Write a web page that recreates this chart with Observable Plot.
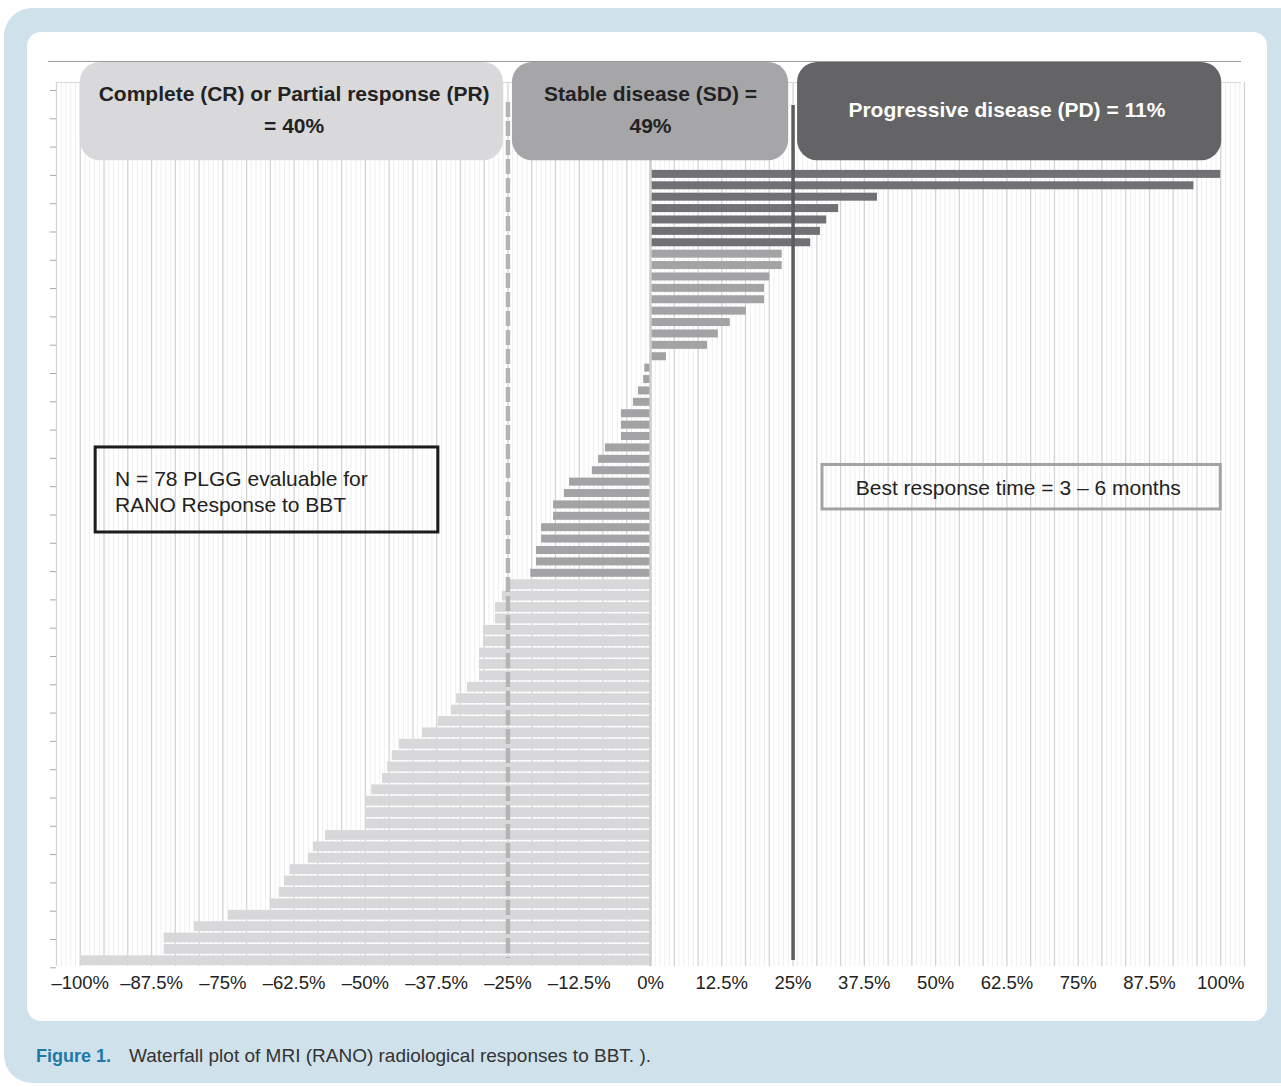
<!DOCTYPE html>
<html>
<head>
<meta charset="utf-8">
<script src="https://cdn.jsdelivr.net/npm/d3@7"></script>
<script src="https://cdn.jsdelivr.net/npm/@observablehq/plot@0.6"></script>
<style>
  html, body { margin: 0; padding: 0; background: #fff; }
  #page { position: relative; width: 1281px; height: 1087px; overflow: hidden;
          font-family: "Liberation Sans", Arial, Helvetica, sans-serif; }
  #outer { position: absolute; left: 4px; top: 8px; width: 1320px; height: 1075px;
           background: #cfe1ea; border-radius: 28px; }
  #panel { position: absolute; left: 27px; top: 32px; width: 1240px; height: 989px;
           background: #fff; border-radius: 14px; }
  #chart { position: absolute; left: 0; top: 0; }
  #caption { position: absolute; left: 36px; top: 1045px; font-size: 19px; color: #333; white-space: nowrap; }
  #caption b { color: #1d7aa6; margin-right: 18px; font-size: 18px; }
</style>
</head>
<body>
<div id="page">
  <div id="outer"></div>
  <div id="panel"></div>
  <div id="chart"></div>
  <div id="caption"><b>Figure 1.</b>Waterfall plot of MRI (RANO) radiological responses to BBT. ).</div>
</div>
<script>
// Patients evaluated; the top rows of the waterfall sit behind the category banners.
const totalPatients = 78;

// Best change in tumour size (%) per patient, sorted from largest growth to largest shrinkage.
const change = [
  100, 95.3, 39.8, 33, 30.9, 29.8, 28.1, 23.1, 23.1, 20.9, 20, 20, 16.8, 14, 11.9, 10, 2.8,
  -1, -1.2, -2.1, -3, -5.1, -5.1, -5.1, -7.9, -9.1, -10.2, -14.2, -15.1, -17, -17, -19.1, -19.1,
  -20, -20, -21,
  -25.1, -26, -27.2, -27.2, -29.3, -29.3, -30, -30, -30, -32.1, -34, -34.9, -37.2, -40, -44,
  -45.3, -46.1, -47, -48.9, -50, -50, -50, -57, -59.1, -60, -63.2, -64.2, -65.1, -66.7, -74,
  -80, -85.3, -85.3, -100
];

// RANO response categories, their share of patients and their bounds on the % axis.
const responseNames = ["Complete (CR) or Partial response (PR)", "Stable disease (SD)", "Progressive disease (PD)"];
const responseCodes = ["PR", "SD", "PD"];
const responseShares = [40, 49, 11];
const responseBounds = [-100, -25, 25, 100];

// Axis tick labels (%).
const xTickValues = [-100, -87.5, -75, -62.5, -50, -37.5, -25, -12.5, 0, 12.5, 25, 37.5, 50, 62.5, 75, 87.5, 100];

const colors = {PR: "#d8d8da", SD: "#a3a3a6", PD: "#717175"};
const boxFill = {PR: "#d9d9db", SD: "#a6a6a9", PD: "#646466"};
const boxText = {PR: "#222", SD: "#222", PD: "#fff"};

const hiddenRows = totalPatients - change.length;
const classify = v => v > responseBounds[2] ? "PD" : v > responseBounds[1] ? "SD" : "PR";
const bars = change.map((value, i) => ({value, row: hiddenRows + i, group: classify(value)}));

const labelLayouts = [
  (n, s) => `${n}\n= ${s}%`,
  (n, s) => `${n} =\n${s}%`,
  (n, s) => `${n} = ${s}%`
];
const groups = responseNames.map((name, i) => ({
  name, code: responseCodes[i], share: responseShares[i],
  x1: responseBounds[i], x2: responseBounds[i + 1],
  label: labelLayouts[i](name, responseShares[i])
}));

// Vertical grid every 1/24 of 100 %, with faint subdivisions between.
const gridStep = 100 / 24;
const majorGrid = d3.range(-25, 26).map(k => k * gridStep);
const minorGrid = d3.range(-125, 126).filter(k => k % 5 !== 0).map(k => k * gridStep / 5);
// Small dash marks along the left edge.
const yDashes = d3.range(32).map(k => 1.14 + k * 2.483);

const fmt = d => (d < 0 ? "\u2013" : "") + Math.abs(d) + "%";

const rowBars = code => Plot.rectX(bars.filter(d => d.group === code), {
  x1: () => 0, x2: "value", y1: "row", y2: d => d.row + 1,
  fill: colors[code],
  insetTop: code === "PR" ? 0.8 : 1.7, insetBottom: code === "PR" ? 0.8 : 1.7
});

const banner = (g, insetLeft, insetRight) => Plot.rect([g], {
  x1: "x1", x2: "x2", y1: () => 0, y2: () => hiddenRows,
  fill: boxFill[g.code], rx: 20,
  insetTop: -15, insetBottom: 8, insetLeft, insetRight
});

const chart = Plot.plot({
  width: 1281,
  height: 1010,
  marginLeft: 56,
  marginRight: 37,
  marginTop: 77,
  marginBottom: 44,
  style: {background: "transparent", fontFamily: "Liberation Sans, Arial, Helvetica, sans-serif", overflow: "visible"},
  x: {domain: [-100 - gridStep, 100 + gridStep], label: null},
  y: {domain: [0, totalPatients], reverse: true, label: null},
  marks: [
    Plot.ruleX(minorGrid, {stroke: "#efefef", strokeWidth: 1, insetTop: 5}),
    Plot.ruleX(majorGrid, {stroke: "#d3d3d3", strokeWidth: 1.3, insetTop: 5}),
    Plot.ruleY([0], {dy: 5, stroke: "#d8d8d8", strokeWidth: 1, insetRight: 3}),
    Plot.ruleY([0], {dy: -16, stroke: "#9a9a9a", strokeWidth: 1.2, insetLeft: -8, insetRight: 3}),
    rowBars("PR"),
    rowBars("SD"),
    rowBars("PD"),
    Plot.ruleX([0], {stroke: "#cdcdcd", strokeWidth: 2.5}),
    Plot.ruleX([responseBounds[1]], {y1: () => 0, y2: () => totalPatients, stroke: "#b4b4b4",
      strokeWidth: 4.5, strokeDasharray: "15,4", insetTop: 25, insetBottom: 8}),
    Plot.ruleX([responseBounds[2]], {y1: () => 0, y2: () => totalPatients, stroke: "#5c5c5e",
      strokeWidth: 3.5, insetTop: 28, insetBottom: 6}),
    banner(groups[0], 0, 4.5),
    banner(groups[1], 4.5, 4.5),
    banner(groups[2], 4.5, -1),
    Plot.text(groups.slice(0, 2), {
      x: d => (d.x1 + d.x2) / 2, y: () => hiddenRows / 2, dy: -16,
      text: "label", fill: d => boxText[d.code],
      fontSize: 21, fontWeight: "bold", lineHeight: 1.52
    }),
    Plot.text(groups.slice(2), {
      x: d => (d.x1 + d.x2) / 2, y: () => hiddenRows / 2, dy: -13,
      text: "label", fill: d => boxText[d.code],
      fontSize: 21, fontWeight: "bold"
    }),
    // Cohort note
    Plot.rect([0], {x1: -97.3, x2: -37.2, y1: 32.46, y2: 39.92, fill: "none", stroke: "#1c1c1c", strokeWidth: 3}),
    Plot.text([`N = ${totalPatients} PLGG evaluable for\nRANO Response to BBT`], {
      x: -93.9, y: 36.24, textAnchor: "start", fontSize: 21, lineHeight: 1.24, fill: "#222"
    }),
    // Timing note
    Plot.rect([0], {x1: 30.16, x2: 100, y1: 34.0, y2: 37.9, fill: "none", stroke: "#a3a3a3", strokeWidth: 3}),
    Plot.text(["Best response time = 3 \u2013 6 months"], {
      x: 64.5, y: 36.06, fontSize: 21, fill: "#222"
    }),
    Plot.axisY(yDashes, {tickSize: 6, tickFormat: () => "", stroke: "#a8a8a8", label: null}),
    Plot.axisX(xTickValues, {tickSize: 0, tickPadding: 9, tickFormat: fmt, fontSize: 18.5, fill: "#222", label: null})
  ]
});

document.getElementById("chart").appendChild(chart);
</script>
</body>
</html>
